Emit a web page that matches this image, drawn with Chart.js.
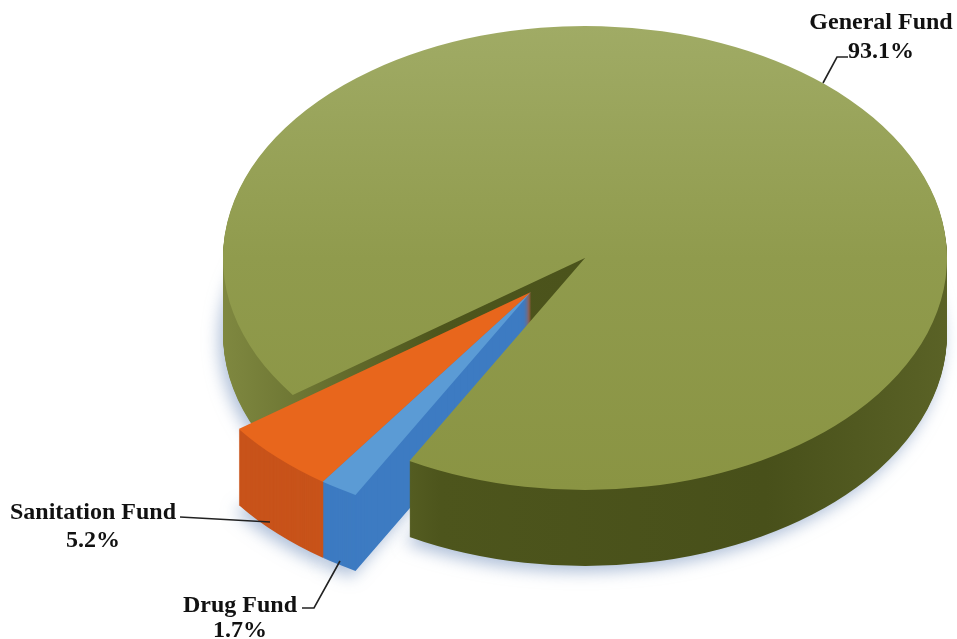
<html>
<head>
<title>Fund Share</title>
<style>
  body { margin: 0; background: #fff; }
  canvas { display: block; }
</style>
</head>
<body>
<canvas id="chart" width="957" height="639"></canvas>
<script src="https://cdn.jsdelivr.net/npm/chart.js"></script>
<script>
// data (clockwise from the start angle)
var funds = ['Drug Fund', 'Sanitation Fund', 'General Fund'];
var shares = [1.7, 5.2, 93.1];
var shareText = ['1.7%', '5.2%', '93.1%'];
var exploded = [true, true, false];

var topColors = ['#5b9bd5', '#e8661c', '#939e50'];
var sideColors = ['#3d7bc2', '#c8531a', '#525a1e'];

// look of the fake 3d disc
var CX = 585, CY = 258, RX = 362, RY = 232, DEPTH = 76;
var EX = -54, EY = 34;

function drawArc(ctx, arc, color) {
    var copy = Object.create(arc);
    copy.options = Object.assign({}, arc.options, { backgroundColor: color, borderWidth: 0 });
    arc.draw.call(copy, ctx);
}

var pie3d = {
    id: 'pie3d',
    beforeDatasetsDraw: function(chart) {
        var ctx = chart.ctx;
        var arcs = chart.getDatasetMeta(0).data;
        var cx = arcs[0].x, cy = arcs[0].y, r = arcs[0].outerRadius;

        function place(i, dy) {
            ctx.save();
            ctx.translate(CX + (exploded[i] ? EX : 0), CY + dy + (exploded[i] ? EY : 0));
            ctx.scale(RX / r, RY / r);
            ctx.translate(-cx, -cy);
        }

        // sides, bottom layer first
        for (var d = DEPTH; d >= 1; d--) {
            for (var i = 0; i < arcs.length; i++) {
                place(i, d);
                if (d == DEPTH) {
                    ctx.shadowColor = 'rgba(110,140,185,0.55)';
                    ctx.shadowBlur = 16;
                    ctx.shadowOffsetX = -4;
                    ctx.shadowOffsetY = 6;
                }
                var col = sideColors[i];
                if (i == 2) {
                    var g = ctx.createLinearGradient(cx - r, 0, cx + r, 0);
                    g.addColorStop(0, '#7f8840');
                    g.addColorStop(0.3, '#4d551c');
                    g.addColorStop(0.75, '#48501a');
                    g.addColorStop(1, '#5a6226');
                    col = g;
                }
                drawArc(ctx, arcs[i], col);
                ctx.restore();
            }
        }
        // top faces, green first
        for (var k = arcs.length - 1; k >= 0; k--) {
            place(k, 0);
            var top = topColors[k];
            if (k == 2) {
                var tg = ctx.createLinearGradient(0, cy - r, 0, cy + r);
                tg.addColorStop(0, '#a0ab65');
                tg.addColorStop(0.5, '#909b4d');
                tg.addColorStop(1, '#8a9443');
                top = tg;
            }
            drawArc(ctx, arcs[k], top);
            ctx.restore();
        }
        return false;
    },
    afterDraw: function(chart) {
        var ctx = chart.ctx;
        ctx.save();
        ctx.fillStyle = '#111';
        ctx.strokeStyle = '#222';
        ctx.lineWidth = 1.6;
        ctx.font = 'bold 24px "Liberation Serif", "DejaVu Serif", serif';
        ctx.textAlign = 'center';

        ctx.fillText(funds[2], 881, 29);
        ctx.fillText(shareText[2], 881, 58);
        ctx.beginPath();
        ctx.moveTo(848, 57); ctx.lineTo(837, 57); ctx.lineTo(823, 83);
        ctx.stroke();

        ctx.fillText(funds[1], 93, 519);
        ctx.fillText(shareText[1], 93, 547);
        ctx.beginPath();
        ctx.moveTo(180, 517); ctx.lineTo(270, 522);
        ctx.stroke();

        ctx.fillText(funds[0], 240, 612);
        ctx.fillText(shareText[0], 240, 637);
        ctx.beginPath();
        ctx.moveTo(302, 608); ctx.lineTo(314, 608); ctx.lineTo(340, 561);
        ctx.stroke();
        ctx.restore();
    }
};

var ctx = document.getElementById('chart').getContext('2d');
var chart = new Chart(ctx, {
    type: 'pie',
    data: {
        labels: funds,
        datasets: [{
            data: shares,
            backgroundColor: topColors,
            borderWidth: 0,
            clip: false
        }]
    },
    options: {
        responsive: false,
        animation: false,
        events: [],
        rotation: 209,
        plugins: {
            legend: { display: false },
            tooltip: { enabled: false }
        }
    },
    plugins: [pie3d]
});
</script>
</body>
</html>
